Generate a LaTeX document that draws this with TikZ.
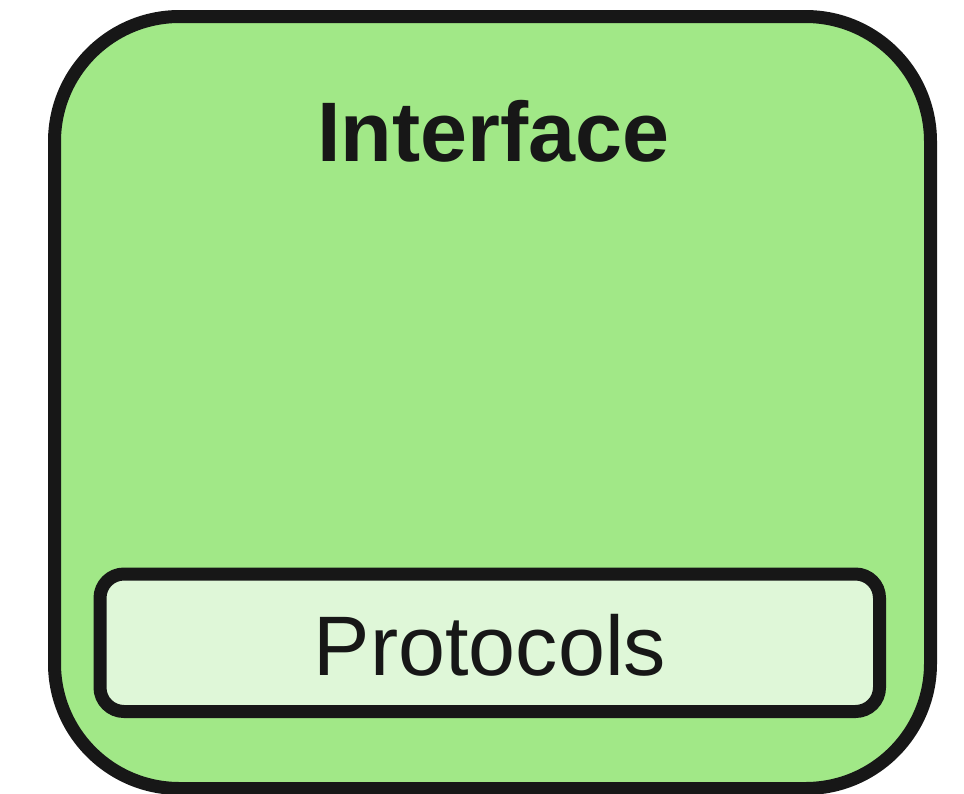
\documentclass[tikz,border=0pt]{standalone}
\usepackage{fontspec}
\setmainfont{Liberation Sans}
\definecolor{outerfill}{HTML}{A1E887}
\definecolor{innerfill}{HTML}{DFF7D8}
\definecolor{strokec}{HTML}{171717}
\tikzset{
  outerbox/.style={draw=strokec, fill=outerfill, line width=13pt, rounded corners=125pt, rectangle, inner sep=0pt, minimum width=876pt, minimum height=772pt},
  innerbox/.style={draw=strokec, fill=innerfill, line width=13pt, rounded corners=24pt, rectangle, inner sep=0pt, minimum width=779.5pt, minimum height=137.5pt},
  lbl/.style={text=strokec, inner sep=0pt, anchor=base, font=\fontsize{84.5}{100}\selectfont}
}
\begin{document}
\begin{tikzpicture}[x=1pt,y=-1pt]
\useasboundingbox (0,0) rectangle (964,793);
\node[outerbox] (outer) at (492.5,402.5) {};
\node[innerbox] (inner) at (489.75,642.75) {};
\node[lbl, font=\fontsize{84.5}{100}\selectfont\bfseries] (title) at (493.5,161) {Interface};
\node[lbl] (proto) at (490,675.5) {Protocols};
\end{tikzpicture}
\end{document}
